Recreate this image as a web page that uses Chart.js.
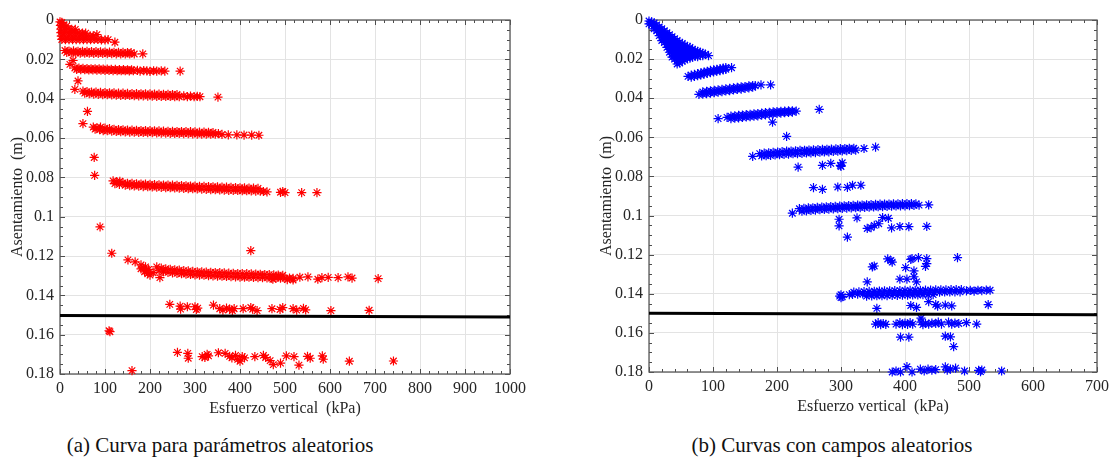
<!DOCTYPE html>
<html>
<head>
<meta charset="utf-8">
<script src="https://cdn.jsdelivr.net/npm/chart.js@4.4.1/dist/chart.umd.min.js"></script>
<style>
  body { margin: 0; background: #fff; width: 1114px; height: 464px; position: relative; overflow: hidden; }
  canvas { position: absolute; top: 0; }
  #chartA { left: 0; }
  #chartB { left: 589px; }
  .caption {
    position: absolute; top: 433px; line-height: 24px;
    font-size: 21px; font-family: 'Liberation Serif', Tinos, 'DejaVu Serif Condensed', 'DejaVu Serif', serif;
    color: #111; white-space: nowrap; transform: translateX(-50%);
  }
</style>
</head>
<body>
<canvas id="chartA" width="540" height="425"></canvas>
<canvas id="chartB" width="525" height="423"></canvas>
<div class="caption" style="left:220px">(a) Curva para parámetros aleatorios</div>
<div class="caption" style="left:832px">(b) Curvas con campos aleatorios</div>

<script>
// ---- (a) random parameters: [vertical stress kPa, settlement m] ----
const redFan = [
  [0,0.001],[4,0.0012],
  [1,0.0028],[8,0.0028],[15,0.003],
  [2,0.0046],[10,0.0046],[18,0.0046],[26,0.0047],[34,0.0048],
  [2,0.0064],[10,0.0064],[18,0.0064],[26,0.0064],[34,0.0064],[42,0.0065],[50,0.0066],[57,0.0067],
  [3,0.0082],[11,0.0082],[19,0.0082],[27,0.0082],[35,0.0082],[43,0.0082],[51,0.0082],[59,0.0082],[67,0.0081],[74,0.008],[82,0.0074],
  [4,0.0099],[12,0.01],[20,0.01],[28,0.01],[36,0.01],[44,0.01],[52,0.01],[60,0.01],[68,0.01],[76,0.0099],[84,0.0099],[92,0.0101],[100,0.0101],[107,0.01],
  [122,0.0113]
];
const redStep1 = [
  [11,0.0155],[20,0.0158],[30,0.0157],[40,0.0159],[50,0.016],[60,0.016],[70,0.0161],[80,0.0161],[90,0.0162],
  [100,0.0163],[110,0.0163],[120,0.0164],[130,0.0165],[140,0.0165],[150,0.0166],[158,0.0166],
  [15,0.0165],[25,0.0167],[35,0.0168],[45,0.0168],[55,0.0169],[65,0.0169],[75,0.017],[85,0.017],[95,0.017],
  [105,0.0171],[115,0.0171],[125,0.0172],[135,0.0172],[145,0.0173],[155,0.0172],[165,0.0173],[184,0.0172]
];
const redStep2 = [
  [22,0.0226],[29,0.0206],
  [33,0.0244],[42,0.0245],[51,0.0246],[60,0.0247],[69,0.0248],[78,0.0248],[87,0.0249],[96,0.025],[105,0.025],
  [114,0.0251],[123,0.0251],[132,0.0252],[141,0.0252],[150,0.0253],[159,0.0253],
  [37,0.0251],[46,0.0252],[55,0.0253],[64,0.0254],[73,0.0254],[82,0.0255],[91,0.0255],[100,0.0256],[109,0.0256],
  [118,0.0257],[127,0.0257],[136,0.0258],[145,0.0258],[154,0.0259],[163,0.0258],
  [172,0.0256],[178,0.026],[186,0.0257],[193,0.0259],[200,0.0261],[208,0.0258],[215,0.026],[225,0.0259],[233,0.026],
  [267,0.026]
];
const redStep3 = [
  [40,0.031],[33,0.0353],
  [51,0.0362],[60,0.0364],[70,0.0366],[80,0.0367],[90,0.0368],[100,0.0369],[110,0.037],[120,0.0371],[130,0.0372],
  [140,0.0372],[150,0.0373],[160,0.0374],[170,0.0374],[180,0.0375],[190,0.0376],[200,0.0376],[210,0.0377],
  [220,0.0377],[230,0.0378],[240,0.0378],[250,0.0379],[260,0.0379],
  [55,0.0372],[65,0.0375],[75,0.0377],[85,0.0378],[95,0.0379],[105,0.038],[115,0.0381],[125,0.0382],[135,0.0383],
  [145,0.0384],[155,0.0384],[165,0.0385],[175,0.0386],[185,0.0386],[195,0.0387],[205,0.0387],[215,0.0388],
  [225,0.0388],[235,0.0389],[245,0.0389],[255,0.039],[265,0.039],
  [275,0.0386],[283,0.039],[290,0.0387],[298,0.039],[305,0.0388],[311,0.039],[351,0.0392]
];
const redStep4 = [
  [61,0.0465],[51,0.0527],[76,0.0699],[77,0.079],
  [74,0.0545],[82,0.0548],[90,0.0545],[100,0.055],[110,0.0552],[120,0.0556],[130,0.0557],[140,0.0558],[150,0.056],
  [160,0.056],[170,0.0561],[180,0.0562],[190,0.0563],[200,0.0563],[210,0.0564],[220,0.0564],[230,0.0565],
  [240,0.0566],[250,0.0566],[260,0.0567],[270,0.0567],[280,0.0568],[290,0.0568],[300,0.0569],[310,0.057],
  [320,0.057],[330,0.0571],[340,0.0572],
  [78,0.0555],[88,0.0558],[96,0.0562],[105,0.0563],[115,0.0565],[125,0.0567],[135,0.0568],[145,0.0569],
  [155,0.057],[165,0.057],[175,0.0571],[185,0.0572],[195,0.0573],[205,0.0573],[215,0.0574],[225,0.0575],
  [235,0.0575],[245,0.0576],[255,0.0577],[265,0.0577],[275,0.0578],[285,0.0578],[295,0.0579],[305,0.058],
  [315,0.058],[325,0.058],[335,0.0581],[345,0.0581],
  [352,0.0578],[360,0.0582],[374,0.0584],[393,0.0584],[409,0.0585],[426,0.0585],[442,0.0586]
];
const redStep5 = [
  [118,0.0818],[126,0.0822],[133,0.082],[140,0.0828],[150,0.083],[160,0.0831],[170,0.0833],[180,0.0834],
  [190,0.0835],[200,0.0836],[210,0.0837],[220,0.0838],[230,0.0839],[240,0.084],[250,0.084],[260,0.0841],
  [270,0.0842],[280,0.0843],[290,0.0844],[300,0.0845],[310,0.0846],[320,0.0846],[330,0.0847],[340,0.0848],
  [350,0.0849],[360,0.085],[370,0.085],[380,0.0851],[390,0.0852],[400,0.0853],[410,0.0854],[420,0.0855],
  [430,0.0855],[440,0.0856],
  [122,0.0832],[132,0.0836],[145,0.084],[155,0.0842],[165,0.0844],[175,0.0845],[185,0.0847],[195,0.0848],
  [205,0.0849],[215,0.085],[225,0.0851],[235,0.0852],[245,0.0853],[255,0.0854],[265,0.0855],[275,0.0856],
  [285,0.0857],[295,0.0858],[305,0.0859],[315,0.086],[325,0.0861],[335,0.0862],[345,0.0863],[355,0.0864],
  [365,0.0865],[375,0.0866],[385,0.0866],[395,0.0867],[405,0.0868],[415,0.0868],[425,0.0869],[435,0.087],
  [445,0.087],[452,0.0872],
  [460,0.0874],[490,0.0876],[495,0.0872],[500,0.0878],[537,0.0878],[571,0.0878]
];
const redStep6 = [
  [89,0.1052],[115,0.1186],[424,0.1173],
  [151,0.122],[167,0.123],[180,0.1245],[185,0.1262],[190,0.1255],[192,0.1275],[197,0.1268],[188,0.128],
  [195,0.129],[200,0.1297],[180,0.1265],[207,0.1285],[222,0.131],
  [215,0.1255],[225,0.1262],[235,0.1265],[245,0.1268],[255,0.127],[265,0.1272],[275,0.1274],[285,0.1276],
  [295,0.1278],[305,0.128],[315,0.1281],[325,0.1282],[335,0.1283],[345,0.1284],[355,0.1285],[365,0.1286],
  [375,0.1287],[385,0.1288],[395,0.1289],[405,0.129],[415,0.129],[425,0.1291],[435,0.1292],[445,0.1293],
  [455,0.1294],[465,0.1295],[475,0.1296],[485,0.1297],[495,0.1298],
  [220,0.1275],[230,0.128],[240,0.1283],[250,0.1286],[260,0.1288],[270,0.129],[280,0.1292],[290,0.1294],
  [300,0.1296],[310,0.1297],[320,0.1298],[330,0.13],[340,0.1301],[350,0.1302],[360,0.1303],[370,0.1304],
  [380,0.1305],[390,0.1306],[400,0.1307],[410,0.1308],[420,0.1308],[430,0.1309],[440,0.131],[450,0.131],
  [460,0.1311],[470,0.1312],[480,0.1312],[490,0.1313],[500,0.1313],[510,0.1312],[518,0.1314],
  [473,0.1318],[485,0.1305],[505,0.132],[518,0.1322],
  [533,0.1308],[551,0.1306],[573,0.1318],[582,0.131],[596,0.1309],[618,0.131],[640,0.1306],[649,0.1312],[707,0.1315]
];
const redStep7 = [
  [244,0.1446],[267,0.1455],[268,0.147],[283,0.1458],[300,0.1458],[303,0.1472],[306,0.1465],[341,0.145],
  [355,0.1468],[362,0.1475],[370,0.1465],[377,0.147],[383,0.1478],[387,0.1468],[407,0.1468],[424,0.1462],
  [428,0.147],[438,0.1478],[471,0.1468],[489,0.1472],[495,0.1462],[518,0.1468],[526,0.1475],[541,0.1466],
  [546,0.1474],[602,0.1478],[687,0.1476]
];
const redStep8 = [
  [109,0.158],[111,0.1585],[160,0.1783],
  [261,0.169],[284,0.1695],[285,0.172],[316,0.1712],[322,0.1716],[327,0.17],[330,0.1708],[352,0.1692],
  [367,0.1695],[377,0.171],[382,0.1718],[390,0.1705],[395,0.1726],[400,0.1735],[405,0.1712],[410,0.1718],
  [433,0.1712],[452,0.1705],[457,0.1716],[467,0.1732],[474,0.1752],[490,0.1745],[503,0.1708],[520,0.1712],
  [531,0.1755],[550,0.171],[556,0.172],[583,0.1708],[585,0.1725],[643,0.1735],[741,0.1734]
];

// ---- (b) random fields ----
const blueFan = [
  [0,0.0005],[0,0.002],
  [4,0.001],[4,0.0025],
  [8,0.0015],[8,0.003],[8,0.0045],
  [12,0.0025],[12,0.004],[12,0.0055],
  [16,0.0035],[16,0.005],[16,0.0065],[16,0.008],
  [20,0.0045],[20,0.006],[20,0.0075],[20,0.009],[20,0.0105],
  [24,0.0055],[24,0.007],[24,0.0085],[24,0.01],[24,0.0115],
  [28,0.0065],[28,0.008],[28,0.0095],[28,0.011],[28,0.0125],[28,0.014],
  [32,0.0075],[32,0.009],[32,0.0105],[32,0.012],[32,0.0135],[32,0.015],[32,0.0165],
  [36,0.0085],[36,0.01],[36,0.0115],[36,0.013],[36,0.0145],[36,0.016],[36,0.0175],[36,0.019],
  [40,0.0095],[40,0.011],[40,0.0125],[40,0.014],[40,0.0155],[40,0.017],[40,0.0185],[40,0.02],
  [44,0.0105],[44,0.012],[44,0.0135],[44,0.015],[44,0.0165],[44,0.018],[44,0.0195],[44,0.021],[44,0.0225],
  [48,0.0115],[48,0.013],[48,0.0145],[48,0.016],[48,0.0175],[48,0.019],[48,0.0205],[48,0.022],
  [52,0.012],[52,0.0135],[52,0.015],[52,0.0165],[52,0.018],[52,0.0195],[52,0.021],
  [56,0.013],[56,0.0145],[56,0.016],[56,0.0175],[56,0.019],[56,0.0205],
  [60,0.0135],[60,0.015],[60,0.0165],[60,0.018],[60,0.0195],
  [64,0.014],[64,0.0155],[64,0.017],[64,0.0185],[64,0.0195],
  [68,0.015],[68,0.0165],[68,0.018],[68,0.019],
  [72,0.0155],[72,0.017],[72,0.0185],
  [76,0.016],[76,0.0175],[76,0.0188],
  [80,0.0165],[80,0.018],
  [84,0.017],[84,0.0182],
  [88,0.0175],[93,0.0182]
];
const blueStep1 = [
  [61,0.0288],[66,0.0282],[66,0.0292],[71,0.0278],[71,0.0288],[76,0.0274],[76,0.0285],[81,0.027],[81,0.0281],
  [86,0.0266],[86,0.0277],[91,0.0262],[91,0.0273],[96,0.0258],[96,0.0269],[101,0.0255],[101,0.0266],
  [106,0.0252],[106,0.0262],[111,0.0249],[111,0.0259],[116,0.0246],[116,0.0255],[120,0.0243],[120,0.0252],
  [129,0.0244]
];
const blueStep2 = [
  [78,0.038],[84,0.0368],[84,0.0379],[90,0.0365],[90,0.0377],[96,0.0362],[96,0.0374],[102,0.036],[102,0.0372],
  [108,0.0357],[108,0.0369],[114,0.0355],[114,0.0366],[120,0.0352],[120,0.0363],[126,0.035],[126,0.0361],
  [132,0.0347],[132,0.0358],[138,0.0345],[138,0.0355],[144,0.0342],[144,0.0353],[150,0.034],[150,0.035],
  [156,0.0337],[156,0.0347],[162,0.0335],[162,0.0344],[166,0.0336],[175,0.0332],[190,0.0332]
];
const blueStep3 = [
  [108,0.0504],[122,0.0498],[128,0.0492],[128,0.0504],[134,0.049],[134,0.0502],[140,0.0488],[140,0.05],
  [146,0.0486],[146,0.0498],[152,0.0484],[152,0.0496],[158,0.0482],[158,0.0494],[164,0.048],[164,0.0492],
  [170,0.0478],[170,0.049],[176,0.0476],[176,0.0487],[182,0.0474],[182,0.0485],[188,0.0472],[188,0.0482],
  [194,0.047],[194,0.048],[200,0.0468],[200,0.0478],[206,0.0467],[206,0.0476],[212,0.0466],[212,0.0474],
  [218,0.0465],[218,0.0473],[224,0.0464],[224,0.0471],[230,0.0466],
  [266,0.0457],[193,0.0522],[215,0.0595]
];
const blueStep4 = [
  [173,0.0683],[180,0.0681],[187,0.0679],[194,0.0677],[201,0.0675],[208,0.0673],[215,0.0671],[222,0.067],
  [229,0.0669],[236,0.0667],[243,0.0666],[250,0.0665],[257,0.0664],[264,0.0663],[271,0.0662],[278,0.0661],
  [285,0.066],[292,0.0659],[299,0.0658],[306,0.0657],[313,0.0656],[320,0.0656],
  [176,0.0695],[183,0.0694],[190,0.0692],[197,0.069],[204,0.0689],[211,0.0687],[218,0.0686],[225,0.0684],
  [232,0.0683],[239,0.0682],[246,0.068],[253,0.0679],[260,0.0678],[267,0.0676],[274,0.0675],[281,0.0674],
  [288,0.0672],[295,0.0671],[302,0.067],[309,0.0668],[316,0.0667],[323,0.0665],
  [162,0.0697],[336,0.0657],[354,0.065],
  [233,0.0752],[271,0.0743],[284,0.0733],[299,0.0743],[302,0.073],[300,0.0749],
  [257,0.0857],[271,0.0866],[295,0.0854],[310,0.0856],[318,0.0845],[331,0.0845]
];
const blueStep5 = [
  [224,0.0988],
  [235,0.0965],[242,0.0963],[249,0.0961],[256,0.096],[263,0.0958],[270,0.0957],[277,0.0955],[284,0.0954],
  [291,0.0953],[298,0.0952],[305,0.095],[312,0.0949],[319,0.0948],[326,0.0947],[333,0.0946],[340,0.0945],
  [347,0.0944],[354,0.0943],[361,0.0942],[368,0.0942],[375,0.0941],[382,0.094],[389,0.094],[396,0.0939],
  [403,0.0939],[410,0.0939],[417,0.094],
  [239,0.0978],[246,0.0976],[253,0.0974],[260,0.0972],[267,0.097],[274,0.0969],[281,0.0967],[288,0.0966],
  [295,0.0965],[302,0.0963],[309,0.0962],[316,0.0961],[323,0.096],[330,0.0959],[337,0.0958],[344,0.0957],
  [351,0.0956],[358,0.0955],[365,0.0954],[372,0.0953],[379,0.0952],[386,0.0951],[393,0.095],[400,0.095],
  [407,0.0949],[414,0.0948],[422,0.0947],
  [437,0.0945],
  [297,0.1019],[297,0.1053],[310,0.111],[325,0.1012],[341,0.1066],[347,0.1062],[352,0.105],[359,0.1042],
  [365,0.101],[374,0.1014],[379,0.1063],[392,0.1056],[406,0.1057],[434,0.1055]
];
const blueStep6 = [
  [349,0.1262],[352,0.1258],[373,0.1222],[378,0.123],[380,0.1238],[401,0.1266],[409,0.1224],[411,0.122],
  [414,0.1283],[421,0.1215],[432,0.126],[434,0.122],[434,0.1246],[482,0.1215],
  [341,0.1339],[392,0.1325],[403,0.1325],[414,0.1313],[418,0.1339]
];
const blueStep7 = [
  [300,0.1405],[298,0.1412],[302,0.1415],[300,0.142],
  [320,0.1392],[328,0.139],[336,0.1389],[344,0.1388],[352,0.1387],[360,0.1386],[368,0.1385],[376,0.1385],
  [384,0.1384],[392,0.1384],[400,0.1383],[408,0.1383],[416,0.1382],[424,0.1382],[432,0.1381],[440,0.1381],
  [448,0.138],[456,0.138],[464,0.138],[472,0.1379],[480,0.1379],[488,0.1379],
  [313,0.1404],[318,0.1403],[326,0.1402],[334,0.1401],[342,0.14],[350,0.1399],[358,0.1398],[366,0.1398],
  [374,0.1397],[382,0.1396],[390,0.1396],[398,0.1395],[406,0.1395],[414,0.1394],[422,0.1394],[430,0.1393],
  [438,0.1393],[446,0.1392],[454,0.1392],[462,0.1391],[470,0.1391],[478,0.139],[486,0.139],
  [340,0.1412],[348,0.1411],[356,0.141],[364,0.141],[372,0.1409],[380,0.1408],[388,0.1408],[396,0.1407],
  [404,0.1407],[412,0.1406],[420,0.1406],[428,0.1405],[436,0.1405],[444,0.1404],
  [496,0.1385],[502,0.1383],[508,0.1386],[514,0.1382],[520,0.1384],[527,0.1381],[533,0.1382],
  [356,0.1475],[409,0.146],[418,0.147],[437,0.144],[448,0.1455],[451,0.1463],[463,0.1458],[473,0.1462],[530,0.1455]
];
const blueStep8 = [
  [354,0.1555],[358,0.1548],[362,0.1558],[366,0.1552],[370,0.1556],[386,0.1555],[392,0.1548],[396,0.1558],
  [400,0.155],[404,0.1556],[408,0.1548],[412,0.1555],[425,0.1525],[425,0.1545],[428,0.1558],[432,0.1552],
  [437,0.1555],[442,0.155],[448,0.1552],[452,0.1545],[457,0.1555],[468,0.1545],[473,0.1555],[478,0.155],
  [484,0.1552],[496,0.1548],[512,0.1555],
  [393,0.1622],[406,0.1622],[463,0.1617],[471,0.162],[476,0.167],
  [380,0.18],[386,0.1795],[393,0.18],[403,0.1773],[411,0.18],[424,0.1785],[430,0.1795],[436,0.1785],
  [442,0.179],[448,0.1788],[463,0.1774],[466,0.179],[471,0.1785],[479,0.178],[493,0.1795],[515,0.1792],
  [518,0.1798],[520,0.179],[551,0.1795]
];

// settlement limit line (ends at x = 0 and x = axis max)
const limitA = [[0,0.1503],[1000,0.151]];
const limitB = [[0,0.15],[700,0.1507]];

const xMaxA = 1000;
const xMaxB = 700;

const serif = "'Liberation Serif', Tinos, 'DejaVu Serif Condensed', 'DejaVu Serif', serif";
const textColor = '#262626';

// inward ticks (major + minor) and the axes box on all four sides
const boxTicks = {
  id: 'boxTicks',
  beforeDatasetsDraw(chart, args, opts) {
    const { ctx, chartArea: a, scales: { x, y } } = chart;
    ctx.save();
    ctx.strokeStyle = '#4d4d4d';
    ctx.lineWidth = 1;
    ctx.beginPath();
    const nx = Math.round((x.max - x.min) / opts.xMinor);
    for (let i = 0; i <= nx; i++) {
      const px = Math.round(x.getPixelForValue(x.min + i * opts.xMinor)) + 0.5;
      const len = i % opts.xEvery === 0 ? 5 : 3;
      ctx.moveTo(px, a.bottom); ctx.lineTo(px, a.bottom - len);
      ctx.moveTo(px, a.top); ctx.lineTo(px, a.top + len);
    }
    const ny = Math.round((y.max - y.min) / opts.yMinor);
    for (let i = 0; i <= ny; i++) {
      const py = Math.round(y.getPixelForValue(y.min + i * opts.yMinor)) + 0.5;
      const len = i % opts.yEvery === 0 ? 5 : 3;
      ctx.moveTo(a.left, py); ctx.lineTo(a.left + len, py);
      ctx.moveTo(a.right, py); ctx.lineTo(a.right - len, py);
    }
    ctx.stroke();
    ctx.lineWidth = 1.3;
    ctx.strokeStyle = '#5a5a5a';
    ctx.strokeRect(a.left, a.top, a.right - a.left, a.bottom - a.top);
    ctx.restore();
  }
};

function makeChart(id, clusters, color, xMax, limit) {
  const points = clusters.flat().map(([x, y]) => ({ x, y }));
  return new Chart(document.getElementById(id), {
    type: 'scatter',
    data: {
      datasets: [
        {
          data: points,
          pointStyle: 'star',
          pointRadius: 4.6,
          borderWidth: 1.2,
          borderColor: color,
          backgroundColor: color,
          clip: 6,
          order: 2
        },
        {
          data: limit.map(([x, y]) => ({ x, y })),
          showLine: true,
          pointRadius: 0,
          borderColor: '#000',
          borderWidth: 3,
          order: 1
        }
      ]
    },
    options: {
      responsive: false,
      animation: false,
      devicePixelRatio: 1,
      layout: { padding: { top: 20, right: id === 'chartA' ? 30 : 15, bottom: 0, left: 0 } },
      plugins: {
        legend: { display: false },
        tooltip: { enabled: false },
        boxTicks: { xMinor: 20, xEvery: 5, yMinor: 0.005, yEvery: 4 }
      },
      scales: {
        x: {
          type: 'linear',
          min: 0,
          max: xMax,
          grid: { color: '#e3e3e3', drawTicks: false },
          border: { display: false },
          ticks: { stepSize: 100, autoSkip: false, maxRotation: 0, padding: 5,
                   font: { family: serif, size: 16 }, color: textColor,
                   callback: v => String(v) },
          title: { display: true, text: 'Esfuerzo vertical  (kPa)',
                   font: { family: serif, size: 16 }, color: textColor,
                   padding: { top: 0, bottom: 7 } },
          afterFit: s => { s.height = 51; }
        },
        y: {
          type: 'linear',
          reverse: true,
          min: 0,
          max: 0.18,
          grid: { color: '#e3e3e3', drawTicks: false },
          border: { display: false },
          ticks: { stepSize: 0.02, padding: 6, font: { family: serif, size: 16 }, color: textColor,
                   callback: v => String(+v.toFixed(2)) },
          title: { display: true, text: 'Asentamiento  (m)',
                   font: { family: serif, size: 16 }, color: textColor,
                   padding: { top: 8, bottom: 0 } },
          afterFit: s => { s.width = 60; }
        }
      }
    },
    plugins: [boxTicks]
  });
}

makeChart('chartA',
  [redFan, redStep1, redStep2, redStep3, redStep4, redStep5, redStep6, redStep7, redStep8],
  '#ff0000', xMaxA, limitA);
makeChart('chartB',
  [blueFan, blueStep1, blueStep2, blueStep3, blueStep4, blueStep5, blueStep6, blueStep7, blueStep8],
  '#0000ff', xMaxB, limitB);
</script>
</body>
</html>
